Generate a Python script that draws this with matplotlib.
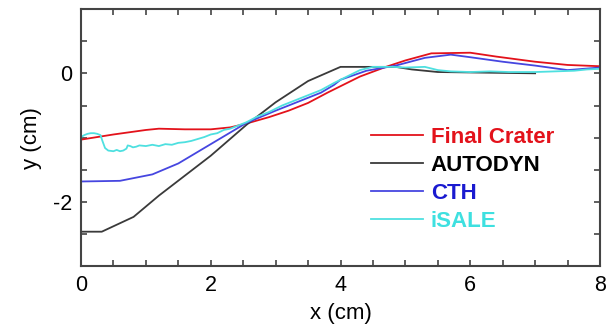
import matplotlib
matplotlib.use("Agg")
import matplotlib.pyplot as plt
from matplotlib.ticker import MultipleLocator

plt.rcParams['font.family'] = ['Liberation Sans', 'DejaVu Sans']
plt.rcParams['axes.unicode_minus'] = False

x_final = [0, 0.5, 1.0, 1.2, 1.6, 2.0, 2.3, 2.55, 2.9, 3.2, 3.5, 3.8, 4.0, 4.3, 4.7, 5.0, 5.4, 6.0, 6.4, 7.0, 7.5, 8.0]
y_final = [-1.03, -0.95, -0.88, -0.86, -0.87, -0.87, -0.84, -0.78, -0.68, -0.58, -0.46, -0.3, -0.2, -0.05, 0.1, 0.2, 0.31, 0.32, 0.26, 0.18, 0.13, 0.11]

x_autodyn = [0, 0.32, 0.81, 1.2, 2.0, 2.55, 3.0, 3.5, 4.0, 4.85, 5.1, 5.5, 7.0]
y_autodyn = [-2.46, -2.46, -2.23, -1.9, -1.28, -0.8, -0.45, -0.12, 0.1, 0.1, 0.06, 0.02, 0.0]

x_cth = [0, 0.6, 1.1, 1.5, 2.0, 2.55, 3.0, 3.4, 3.7, 3.9, 4.0, 4.4, 4.85, 5.3, 5.7, 6.0, 6.5, 7.0, 7.5, 8.0]
y_cth = [-1.68, -1.67, -1.57, -1.4, -1.1, -0.77, -0.58, -0.42, -0.3, -0.18, -0.1, 0.04, 0.12, 0.24, 0.29, 0.25, 0.18, 0.12, 0.05, 0.09]

x_isale = [0, 0.05, 0.1, 0.15, 0.2, 0.25, 0.3, 0.33, 0.37, 0.42, 0.5, 0.55, 0.6, 0.65, 0.7, 0.72,
           0.76, 0.8, 0.85, 0.9, 1.0, 1.1, 1.2, 1.3, 1.4, 1.5, 1.6, 1.7, 1.8, 1.9, 2.0, 2.1, 2.2,
           2.3, 2.4, 2.55, 2.7, 2.9, 3.1, 3.3, 3.5, 3.7, 3.9, 4.1, 4.3, 4.5, 4.8, 5.0, 5.3, 5.5,
           5.7, 6.0, 6.3, 6.6, 7.0, 7.3, 7.6, 7.8, 8.0]
y_isale = [-0.99, -0.96, -0.94, -0.93, -0.93, -0.94, -0.96, -1.05, -1.16, -1.2, -1.21, -1.19, -1.21, -1.2, -1.17, -1.12,
           -1.13, -1.15, -1.14, -1.12, -1.13, -1.11, -1.13, -1.1, -1.11, -1.08, -1.07, -1.05, -1.02, -0.99, -0.95, -0.93, -0.88,
           -0.86, -0.82, -0.76, -0.68, -0.6, -0.5, -0.42, -0.34, -0.26, -0.15, -0.05, 0.05, 0.1, 0.1, 0.09, 0.1, 0.05,
           0.03, 0.02, 0.03, 0.02, 0.02, 0.03, 0.04, 0.06, 0.07]

labels = ["Final Crater", "AUTODYN", "CTH", "iSALE"]
line_colors = ["#e3121b", "#3a3a3a", "#4646e0", "#4ee0e0"]
text_colors = ["#e3121b", "#000000", "#1a1ad0", "#3ee0e0"]

fig = plt.figure(figsize=(6.11, 3.31), dpi=100)
ax = fig.add_axes([0.1326, 0.195, 0.8494, 0.778])

series = [(x_final, y_final), (x_autodyn, y_autodyn), (x_cth, y_cth), (x_isale, y_isale)]
for (xs, ys), c, lab in zip(series, line_colors, labels):
    ax.plot(xs, ys, color=c, lw=1.3, label=lab)

ax.set_xlim(0, 8)
ax.set_ylim(-3, 1)
ax.xaxis.set_major_locator(MultipleLocator(2))
ax.xaxis.set_minor_locator(MultipleLocator(0.5))
ax.yaxis.set_major_locator(MultipleLocator(2))
ax.yaxis.set_minor_locator(MultipleLocator(0.5))
ax.tick_params(which='both', direction='in', top=True, right=True, length=4, width=1.2, color='#444444')
ax.tick_params(which='major', labelsize=15.5, pad=6)
for s in ax.spines.values():
    s.set_linewidth(1.5)
    s.set_color('#444444')

ax.set_xlabel("x (cm)", fontsize=16, labelpad=5)
ax.set_ylabel("y (cm)", fontsize=16, labelpad=8)

leg = ax.legend(loc='upper left', bbox_to_anchor=(0.537, 0.585), frameon=False,
                prop={'weight': 'bold', 'size': 16}, handlelength=2.35,
                handletextpad=0.35, labelspacing=0.32, borderpad=0)
for t, c in zip(leg.get_texts(), text_colors):
    t.set_color(c)

fig.savefig("out.png", dpi=100)
